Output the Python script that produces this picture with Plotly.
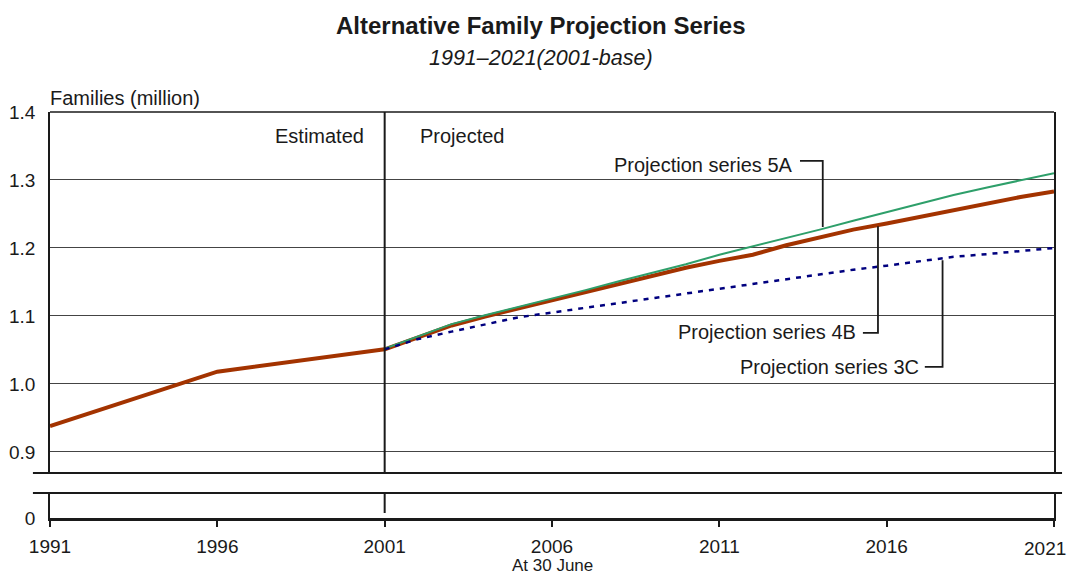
import plotly.graph_objects as go

# ---- data (families, million) ----
est_years = [1991, 1996, 2001]
est_vals = [0.938, 1.018, 1.051]

proj_years = list(range(2001, 2022))
series_4b = [1.051, 1.068, 1.086, 1.099, 1.111, 1.123, 1.136, 1.148, 1.160, 1.171, 1.181,
             1.190, 1.204, 1.215, 1.227, 1.236, 1.246, 1.256, 1.265, 1.275, 1.283]
series_5a = [1.052, 1.070, 1.088, 1.101, 1.113, 1.125, 1.138, 1.151, 1.163, 1.176, 1.190,
             1.202, 1.214, 1.227, 1.240, 1.253, 1.265, 1.278, 1.289, 1.300, 1.310]
series_3c = [1.051, 1.066, 1.077, 1.088, 1.098, 1.105, 1.112, 1.120, 1.127, 1.134, 1.141,
             1.148, 1.155, 1.162, 1.168, 1.174, 1.181, 1.187, 1.191, 1.195, 1.200]

x_ticks = [1991, 1996, 2001, 2006, 2011, 2016, 2021]
x_tick_labels = ["1991", "1996", "2001", "2006", "2011", "2016", "2021"]
y_ticks = [0.9, 1.0, 1.1, 1.2, 1.3, 1.4]
y_tick_labels = ["0.9", "1.0", "1.1", "1.2", "1.3", "1.4"]

BROWN = "#A33300"
GREEN = "#2E9F6A"
NAVY = "#00007F"
FONT = "Liberation Sans, Arial, sans-serif"

fig = go.Figure()

fig.add_trace(go.Scatter(x=est_years, y=est_vals, mode="lines",
                         line=dict(color=BROWN, width=4), xaxis="x2", yaxis="y",
                         showlegend=False, hoverinfo="skip"))
fig.add_trace(go.Scatter(x=proj_years, y=series_4b, mode="lines", name="Projection series 4B",
                         line=dict(color=BROWN, width=4), xaxis="x2", yaxis="y", showlegend=False))
fig.add_trace(go.Scatter(x=proj_years, y=series_5a, mode="lines", name="Projection series 5A",
                         line=dict(color=GREEN, width=2), xaxis="x2", yaxis="y", showlegend=False))
fig.add_trace(go.Scatter(x=proj_years, y=series_3c, mode="lines", name="Projection series 3C",
                         line=dict(color=NAVY, width=2.5, dash="5px,6px"), xaxis="x2", yaxis="y",
                         showlegend=False))
# invisible trace to draw lower panel
fig.add_trace(go.Scatter(x=[1991, 2021], y=[None, None], mode="lines", xaxis="x", yaxis="y2",
                         showlegend=False, hoverinfo="skip"))

top_dom = [0.1108, 1.0]
bot_dom = [0.0, 0.0616]
ylo = 0.869

# last tick label is drawn as a right-aligned annotation so it stays inside the page
shown_x_labels = x_tick_labels[:-1] + [""]

# page body has an 8px margin, so the figure is sized/positioned to compensate
fig.update_layout(
    width=1061, height=570,
    margin=dict(l=42, r=15, t=104, b=60, autoexpand=False),
    paper_bgcolor="white", plot_bgcolor="white",
    font=dict(family=FONT, size=19, color="#1a1a1a"),
    xaxis=dict(domain=[0, 1], range=[1991, 2021], anchor="y2", tickvals=x_ticks,
               ticktext=shown_x_labels,
               ticks="outside", ticklen=6, tickwidth=1.5, tickcolor="#1a1a1a",
               showline=True, linewidth=2.5, linecolor="#1a1a1a", showgrid=False,
               zeroline=False, tickfont=dict(size=19), automargin=False, ticklabelstandoff=3),
    xaxis2=dict(domain=[0, 1], range=[1991, 2021], anchor="y", matches="x",
                showticklabels=False, ticks="", showline=False, showgrid=False, zeroline=False,
                automargin=False),
    yaxis=dict(domain=top_dom, range=[ylo, 1.4], tickvals=y_ticks, ticktext=y_tick_labels,
               anchor="x2", showline=True, mirror=True, linewidth=1.5, linecolor="#1a1a1a",
               showgrid=True, gridcolor="#444444", gridwidth=1, zeroline=False,
               ticks="", ticklabelstandoff=9, tickfont=dict(size=19), automargin=False),
    yaxis2=dict(domain=bot_dom, range=[0, 1], tickvals=[0], ticktext=["0"], anchor="x",
                showline=True, mirror=True, linewidth=1.5, linecolor="#1a1a1a",
                showgrid=False, zeroline=False, ticks="", ticklabelstandoff=9,
                tickfont=dict(size=19), automargin=False),
)

shapes = [
    # top border of upper panel
    dict(type="line", xref="paper", yref="paper", x0=0, x1=1, y0=1, y1=1,
         line=dict(color="#1a1a1a", width=1.5)),
    # break lines
    dict(type="line", xref="paper", yref="paper", x0=-0.017, x1=1.008, y0=top_dom[0], y1=top_dom[0],
         line=dict(color="#1a1a1a", width=2)),
    dict(type="line", xref="paper", yref="paper", x0=-0.017, x1=1.008, y0=bot_dom[1], y1=bot_dom[1],
         line=dict(color="#1a1a1a", width=2)),
    # estimated / projected divider
    dict(type="line", xref="x2", yref="y", x0=2001, x1=2001, y0=ylo, y1=1.4,
         line=dict(color="#1a1a1a", width=2)),
    dict(type="line", xref="x", yref="y2", x0=2001, x1=2001, y0=0.2, y1=1,
         line=dict(color="#1a1a1a", width=2)),
    # leader lines
    dict(type="path", xref="x2", yref="y", path="M 2013.41 1.328 L 2014.09 1.328 L 2014.09 1.231",
         line=dict(color="#1a1a1a", width=1.8)),
    dict(type="path", xref="x2", yref="y", path="M 2015.29 1.075 L 2015.74 1.075 L 2015.74 1.232",
         line=dict(color="#1a1a1a", width=1.8)),
    dict(type="path", xref="x2", yref="y", path="M 2017.14 1.025 L 2017.67 1.025 L 2017.67 1.182",
         line=dict(color="#1a1a1a", width=1.8)),
]
fig.update_layout(shapes=shapes)

ann_font = dict(family=FONT, size=20, color="#1a1a1a")
annotations = [
    dict(text="<b>Alternative Family Projection Series</b>", xref="paper", yref="paper",
         x=0.489, y=1.214, xanchor="center", yanchor="middle", showarrow=False,
         font=dict(family=FONT, size=24, color="#1a1a1a")),
    dict(text="<i>1991–2021(2001-base)</i>", xref="paper", yref="paper",
         x=0.489, y=1.133, xanchor="center", yanchor="middle", showarrow=False,
         font=dict(family=FONT, size=21.5, color="#1a1a1a")),
    dict(text="Families (million)", xref="paper", yref="paper", x=-0.002, y=1.0,
         xanchor="left", yanchor="bottom", yshift=1, showarrow=False, font=ann_font),
    dict(text="At 30 June", xref="paper", yref="paper", x=0.5, y=-0.118,
         xanchor="center", yanchor="middle", showarrow=False,
         font=dict(family=FONT, size=17, color="#1a1a1a")),
    dict(text=x_tick_labels[-1], xref="paper", yref="paper", x=1.0135, y=-0.0739,
         xanchor="right", yanchor="middle", showarrow=False,
         font=dict(family=FONT, size=19, color="#1a1a1a")),
    dict(text="Estimated", xref="x2", yref="y", x=2000.44, y=1.365, xanchor="right",
         yanchor="middle", showarrow=False, font=ann_font),
    dict(text="Projected", xref="x2", yref="y", x=2002.0, y=1.365, xanchor="left",
         yanchor="middle", showarrow=False, font=ann_font),
    dict(text="Projection series 5A", xref="x2", yref="y", x=2013.26, y=1.322, xanchor="right",
         yanchor="middle", showarrow=False, font=ann_font),
    dict(text="Projection series 4B", xref="x2", yref="y", x=2015.14, y=1.0765, xanchor="right",
         yanchor="middle", showarrow=False, font=ann_font),
    dict(text="Projection series 3C", xref="x2", yref="y", x=2017.02, y=1.025, xanchor="right",
         yanchor="middle", showarrow=False, font=ann_font),
]
fig.update_layout(annotations=annotations)

fig.write_html("out.html")
